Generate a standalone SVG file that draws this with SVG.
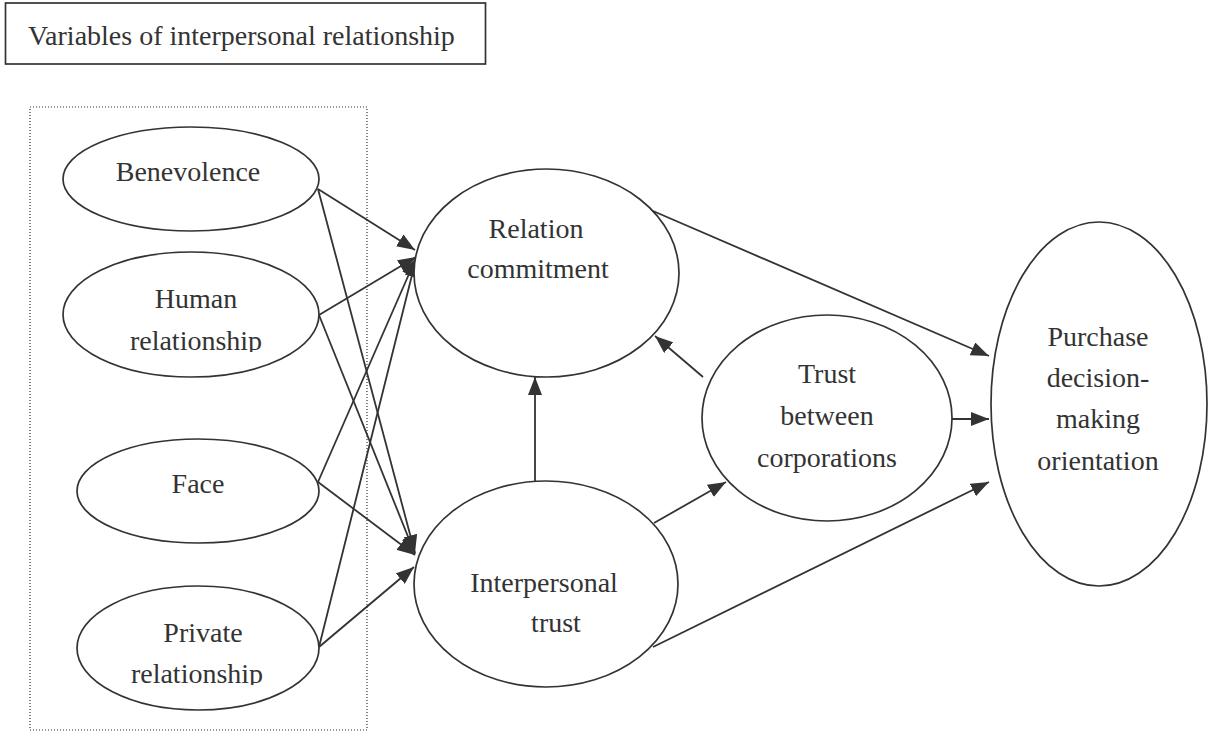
<svg xmlns="http://www.w3.org/2000/svg" width="1209" height="736" viewBox="0 0 1209 736">
<style>
.nd{fill:#fff;stroke:#333;stroke-width:1.7}
.t{font-family:"Liberation Serif","Times New Roman",serif;font-size:28px;fill:#333;text-anchor:middle}
.c{stroke:#333;stroke-width:1.8;fill:none;marker-end:url(#ah)}
</style>
<defs>
<marker id="ah" markerUnits="userSpaceOnUse" markerWidth="18" markerHeight="14" refX="18" refY="7" orient="auto">
<path d="M0,0 L18,7 L0,14 z" fill="#333"/>
</marker>
<clipPath id="clipH"><rect x="60" y="250" width="270" height="102"/></clipPath>
<clipPath id="clipP"><rect x="70" y="585" width="260" height="100"/></clipPath>
</defs>
<rect id="title" x="5.5" y="3" width="480" height="61" fill="#fff" stroke="#333" stroke-width="1.7"/>
<text class="t" x="28" y="45" style="text-anchor:start">Variables of interpersonal relationship</text>
<rect x="30" y="107" width="337" height="623" fill="none" stroke="#333" stroke-width="1.2" stroke-dasharray="1 2"/>
<g id="connectors">
<line class="c" x1="318" y1="189" x2="415" y2="250"/>
<line class="c" x1="318" y1="189" x2="415" y2="553"/>
<line class="c" x1="319" y1="315" x2="416" y2="257"/>
<line class="c" x1="319" y1="315" x2="415" y2="554"/>
<line class="c" x1="318" y1="482" x2="416" y2="258"/>
<line class="c" x1="318" y1="482" x2="415" y2="555"/>
<line class="c" x1="319" y1="647" x2="416" y2="259"/>
<line class="c" x1="319" y1="647" x2="414" y2="567"/>
<line class="c" x1="535" y1="481" x2="535" y2="377"/>
<line class="c" x1="654" y1="523" x2="726" y2="482"/>
<line class="c" x1="703" y1="377" x2="655" y2="336"/>
<line class="c" x1="653" y1="211" x2="989" y2="356"/>
<line class="c" x1="952" y1="419" x2="989" y2="419"/>
<line class="c" x1="653" y1="647" x2="989" y2="482"/>
</g>
<g id="benevolence">
<ellipse class="nd" cx="191" cy="179" rx="128" ry="52"/>
<text class="t" x="188" y="181">Benevolence</text>
</g>
<g id="human">
<ellipse class="nd" cx="191" cy="314.5" rx="128" ry="62.5"/>
<text class="t" x="196" y="308">Human</text>
<text class="t" x="196" y="350" clip-path="url(#clipH)">relationship</text>
</g>
<g id="face">
<ellipse class="nd" cx="198" cy="491" rx="121" ry="52"/>
<text class="t" x="198" y="493">Face</text>
</g>
<g id="private">
<ellipse class="nd" cx="198" cy="648" rx="121" ry="62"/>
<text class="t" x="203" y="642">Private</text>
<text class="t" x="197" y="683" clip-path="url(#clipP)">relationship</text>
</g>
<g id="relation-commitment">
<ellipse class="nd" cx="546.5" cy="273" rx="132.5" ry="104"/>
<text class="t" x="536" y="238">Relation</text>
<text class="t" x="538" y="278">commitment</text>
</g>
<g id="interpersonal-trust">
<ellipse class="nd" cx="546" cy="584" rx="132" ry="103"/>
<text class="t" x="544" y="592">Interpersonal</text>
<text class="t" x="556" y="632">trust</text>
</g>
<g id="trust-between">
<ellipse class="nd" cx="827" cy="418" rx="125" ry="103"/>
<text class="t" x="827" y="383">Trust</text>
<text class="t" x="827" y="425">between</text>
<text class="t" x="827" y="467">corporations</text>
</g>
<g id="purchase">
<ellipse class="nd" cx="1099" cy="404" rx="108" ry="182"/>
<text class="t" x="1098" y="346">Purchase</text>
<text class="t" x="1098" y="387">decision-</text>
<text class="t" x="1098" y="428">making</text>
<text class="t" x="1098" y="470">orientation</text>
</g>
</svg>
